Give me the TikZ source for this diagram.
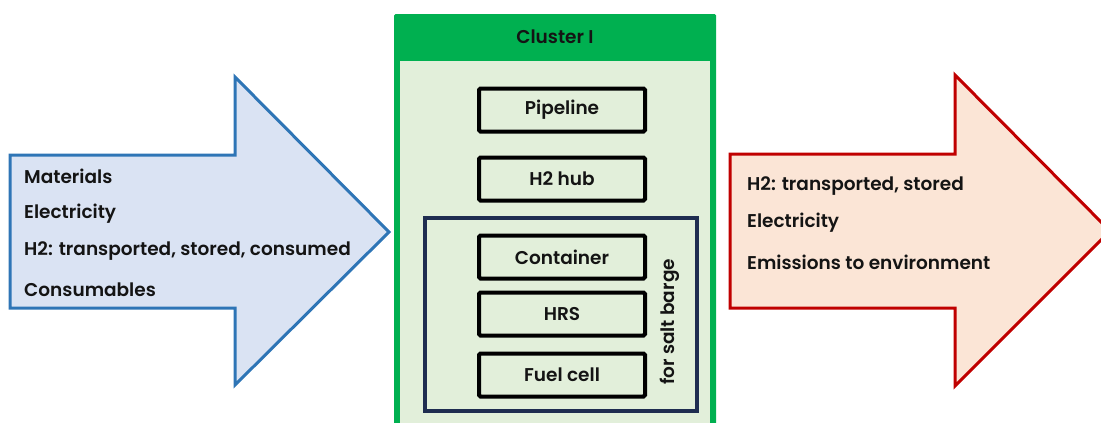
\documentclass[tikz,border=0pt]{standalone}
\usepackage{fontspec}
\setmainfont{Poppins}[UprightFont=* Medium,BoldFont=* SemiBold]
\definecolor{inblue}{HTML}{DAE3F3}
\definecolor{inbluel}{HTML}{2E75B6}
\definecolor{outred}{HTML}{FBE5D6}
\definecolor{outredl}{HTML}{C00000}
\definecolor{clgreen}{HTML}{00B050}
\definecolor{clfill}{HTML}{E2EFDA}
\definecolor{navy}{HTML}{1F2D50}
\definecolor{ink}{HTML}{141414}
\begin{document}
\begin{tikzpicture}[x=1pt,y=-1pt,
  txtfont/.style={font=\fontsize{18.5}{20}\selectfont\bfseries,text=ink},
  listtxt/.style={txtfont,anchor=west,inner sep=0pt},
  unitbox/.style={txtfont,draw=black,line width=4pt,rounded corners=1.5pt,fill=clfill,minimum width=166pt,minimum height=43pt,inner sep=0pt},
  arrowshape/.style={line width=3pt,line join=miter},
]
\useasboundingbox (0,0) rectangle (1101,423);
\clip (0,0) rectangle (1101,423);
% input arrow
\draw[arrowshape,draw=inbluel,fill=inblue]
  (10,155) -- (235,155) -- (235,77) -- (389,232) -- (235,385) -- (235,308) -- (10,308) -- cycle;
\node[listtxt] (m1) at (24,176) {Materials};
\node[listtxt] (m2) at (24,214) {Electricity};
\node[listtxt] (m3) at (24,251) {H2: transported, stored, consumed};
\node[listtxt] (m4) at (24,290) {Consumables};
% output arrow
\draw[arrowshape,draw=outredl,fill=outred]
  (730,154) -- (955,154) -- (955,75) -- (1110,231) -- (955,386) -- (955,308) -- (730,308) -- cycle;
\node[listtxt] (o1) at (747,186) {H2: transported, stored};
\node[listtxt] (o2) at (747,223) {Electricity};
\node[listtxt] (o3) at (747,262) {Emissions to environment};
% cluster
\fill[clgreen,rounded corners=1.5pt] (394,14) rectangle (716,440);
\fill[clfill] (400,61) rectangle (710,440);
\node[txtfont] (ct) at (555,37) {Cluster I};
\node[unitbox] (pipe) at (562,110) {Pipeline};
\node[unitbox] (hub) at (562,179) {H2 hub};
\draw[navy,line width=3.4pt] (425,218) rectangle (697,411);
\node[unitbox] (cont) at (562,257) {Container};
\node[unitbox] (hrs) at (562,314) {HRS};
\node[unitbox] (fc) at (562,375) {Fuel cell};
\node[txtfont,rotate=90,inner sep=0pt] (salt) at (670,322) {for salt barge};
\end{tikzpicture}
\end{document}
